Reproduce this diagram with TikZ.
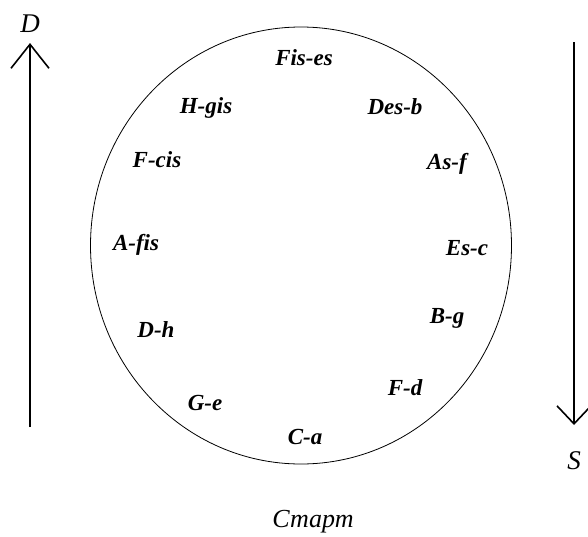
\documentclass[tikz,border=0pt]{standalone}
\usepackage{fontspec}
\setmainfont{Liberation Serif}
\usetikzlibrary{arrows.meta,shapes.geometric}
\tikzset{
  keylabel/.style={font=\fontsize{23}{23}\selectfont\bfseries\itshape, inner sep=1pt},
  axislabel/.style={font=\fontsize{27}{27}\selectfont\itshape, inner sep=0pt},
  startlabel/.style={font=\fontsize{26}{26}\selectfont\itshape, inner sep=1pt},
  circlebox/.style={draw, ellipse, line width=0.8pt, minimum width=421pt,
    minimum height=437pt, inner sep=0pt},
  vecarr/.style={-{Straight Barb[length=24pt, width=38pt, line width=1.6pt]}, line width=1.6pt}
}
\begin{document}
\begin{tikzpicture}[x=1pt, y=-1pt]
  \useasboundingbox (0,0) rectangle (588,536);
  \node[circlebox] (dial) at (301,245.5) {};
  % keys round the circle
  \node[keylabel] (fises) at (304,58) {Fis-es};
  \node[keylabel] (desb) at (395,107) {Des-b};
  \node[keylabel] (asf) at (447,164) {As-f};
  \node[keylabel] (esc) at (467,248) {Es-c};
  \node[keylabel] (bg) at (447,318) {B-g};
  \node[keylabel] (fd) at (405,388) {F-d};
  \node[keylabel] (ca) at (305,437) {C-a};
  \node[keylabel] (ge) at (205,403) {G-e};
  \node[keylabel] (dh) at (156,330) {D-h};
  \node[keylabel] (afis) at (136,245) {A-fis};
  \node[keylabel] (fcis) at (157,160) {F-cis};
  \node[keylabel] (hgis) at (206,108) {H-gis};
  % side arrows
  \node[axislabel] (dlab) at (30,24) {D};
  \node[axislabel] (slab) at (574,461) {S};
  \coordinate (dfoot) at (30,427);
  \coordinate (dhead) at (30,43);
  \coordinate (stop) at (574,42);
  \coordinate (shead) at (574,425);
  \draw[vecarr] (dfoot) -- (dhead);
  \draw[vecarr, -{Straight Barb[length=18pt, width=34pt, line width=1.6pt]}] (stop) -- (shead);
  \node[startlabel] (start) at (313,522) {Старт};
\end{tikzpicture}
\end{document}
